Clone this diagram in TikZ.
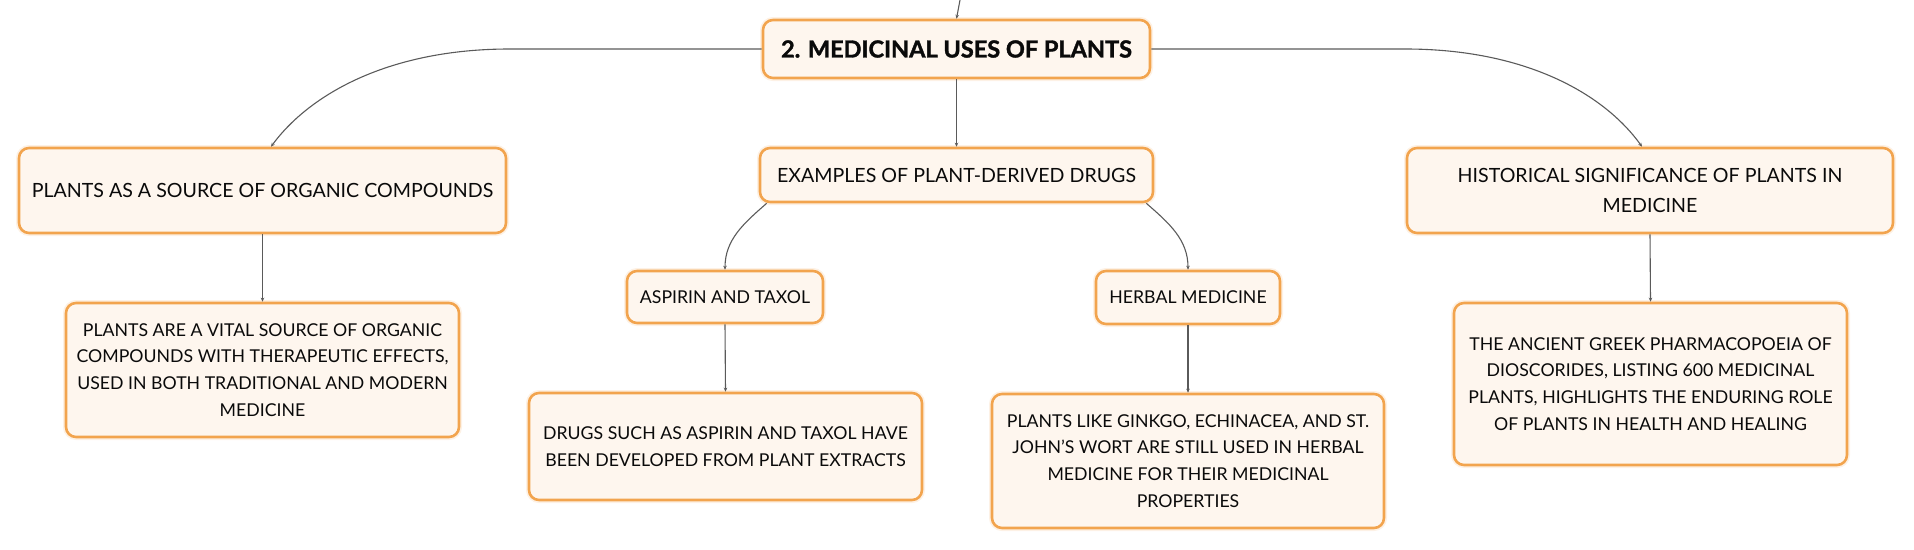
\documentclass[tikz,border=0pt]{standalone}
\usepackage{fontspec}
\setmainfont{Lato}[BoldFeatures={FakeBold=1.5}]
\usetikzlibrary{arrows.meta,calc}
\definecolor{boxborder}{HTML}{F2A44E}
\definecolor{boxfill}{HTML}{FEF6EE}
\definecolor{linecol}{HTML}{5A5A5A}
\definecolor{txt}{HTML}{0A0A0A}
\tikzset{
  box/.style={draw=boxborder, fill=boxfill, line width=2.6pt, rounded corners=10pt,
    align=center, inner sep=0pt, text=txt,
    preaction={draw=boxborder, line width=6pt, draw opacity=0.15}},
  rootbox/.style={box, font=\fontsize{23.5}{30}\selectfont\bfseries},
  lvlbox/.style={box, font=\fontsize{19.6}{30}\selectfont},
  leafbox/.style={box, font=\fontsize{17.7}{26.7}\selectfont},
  conn/.style={draw=linecol, line width=1.1pt, -{Stealth[length=4pt,width=3.5pt]}}
}
\begin{document}
\begin{tikzpicture}[x=1pt,y=-1pt]
\useasboundingbox (0,0) rectangle (1914,549);
\node[rootbox, minimum width=387pt, minimum height=58pt] (root) at (956.5,49) {2. MEDICINAL USES OF PLANTS};
\node[lvlbox, minimum width=487pt, minimum height=85pt] (src) at (262.5,190.5) {PLANTS AS A SOURCE OF ORGANIC COMPOUNDS};
\node[lvlbox, minimum width=393pt, minimum height=54pt] (ex) at (956.5,175) {EXAMPLES OF PLANT-DERIVED DRUGS};
\node[lvlbox, minimum width=486pt, minimum height=85pt] (hist) at (1650,190.5) {HISTORICAL SIGNIFICANCE OF PLANTS IN\\MEDICINE};
\node[leafbox, minimum width=393pt, minimum height=134pt] (srcc) at (262.5,370) {PLANTS ARE A VITAL SOURCE OF ORGANIC\\COMPOUNDS WITH THERAPEUTIC EFFECTS,\\USED IN BOTH TRADITIONAL AND MODERN\\MEDICINE};
\node[leafbox, minimum width=196pt, minimum height=52pt] (asp) at (725,297) {ASPIRIN AND TAXOL};
\node[leafbox, minimum width=184pt, minimum height=53pt] (herb) at (1188,297.5) {HERBAL MEDICINE};
\node[leafbox, minimum width=393pt, minimum height=107pt] (drugs) at (725.5,446.5) {DRUGS SUCH AS ASPIRIN AND TAXOL HAVE\\BEEN DEVELOPED FROM PLANT EXTRACTS};
\node[leafbox, minimum width=392pt, minimum height=134pt] (plantsl) at (1188,461) {PLANTS LIKE GINKGO, ECHINACEA, AND ST.\\JOHN'S WORT ARE STILL USED IN HERBAL\\MEDICINE FOR THEIR MEDICINAL\\PROPERTIES};
\node[leafbox, minimum width=393pt, minimum height=162pt] (histc) at (1650.5,384) {THE ANCIENT GREEK PHARMACOPOEIA OF\\DIOSCORIDES, LISTING 600 MEDICINAL\\PLANTS, HIGHLIGHTS THE ENDURING ROLE\\OF PLANTS IN HEALTH AND HEALING};
\coordinate (topin) at (960,0);
\draw[conn] (topin) -- (root.north);
\draw[conn] (root.west) -- ++(-252,0) .. controls +(-120,0) and +(39,-53) .. ($(src.north)+(8.5,0)$);
\draw[conn] (root.east) -- ++(254,0) .. controls +(120,0) and +(-38,-53) .. ($(hist.north)+(-8,0)$);
\draw[conn] (root.south) -- (ex.north);
\draw[conn] ($(ex.south west)+(8,0)$) .. controls +(-23,20) and +(0,-30) .. (asp.north);
\draw[conn] ($(ex.south east)+(-8,0)$) .. controls +(23,20) and +(0,-30) .. (herb.north);
\draw[conn] (src.south) -- (srcc.north);
\draw[conn] (hist.south) -- (histc.north);
\draw[conn] (asp.south) -- (drugs.north);
\draw[conn] (herb.south) -- (plantsl.north);
\end{tikzpicture}
\end{document}
